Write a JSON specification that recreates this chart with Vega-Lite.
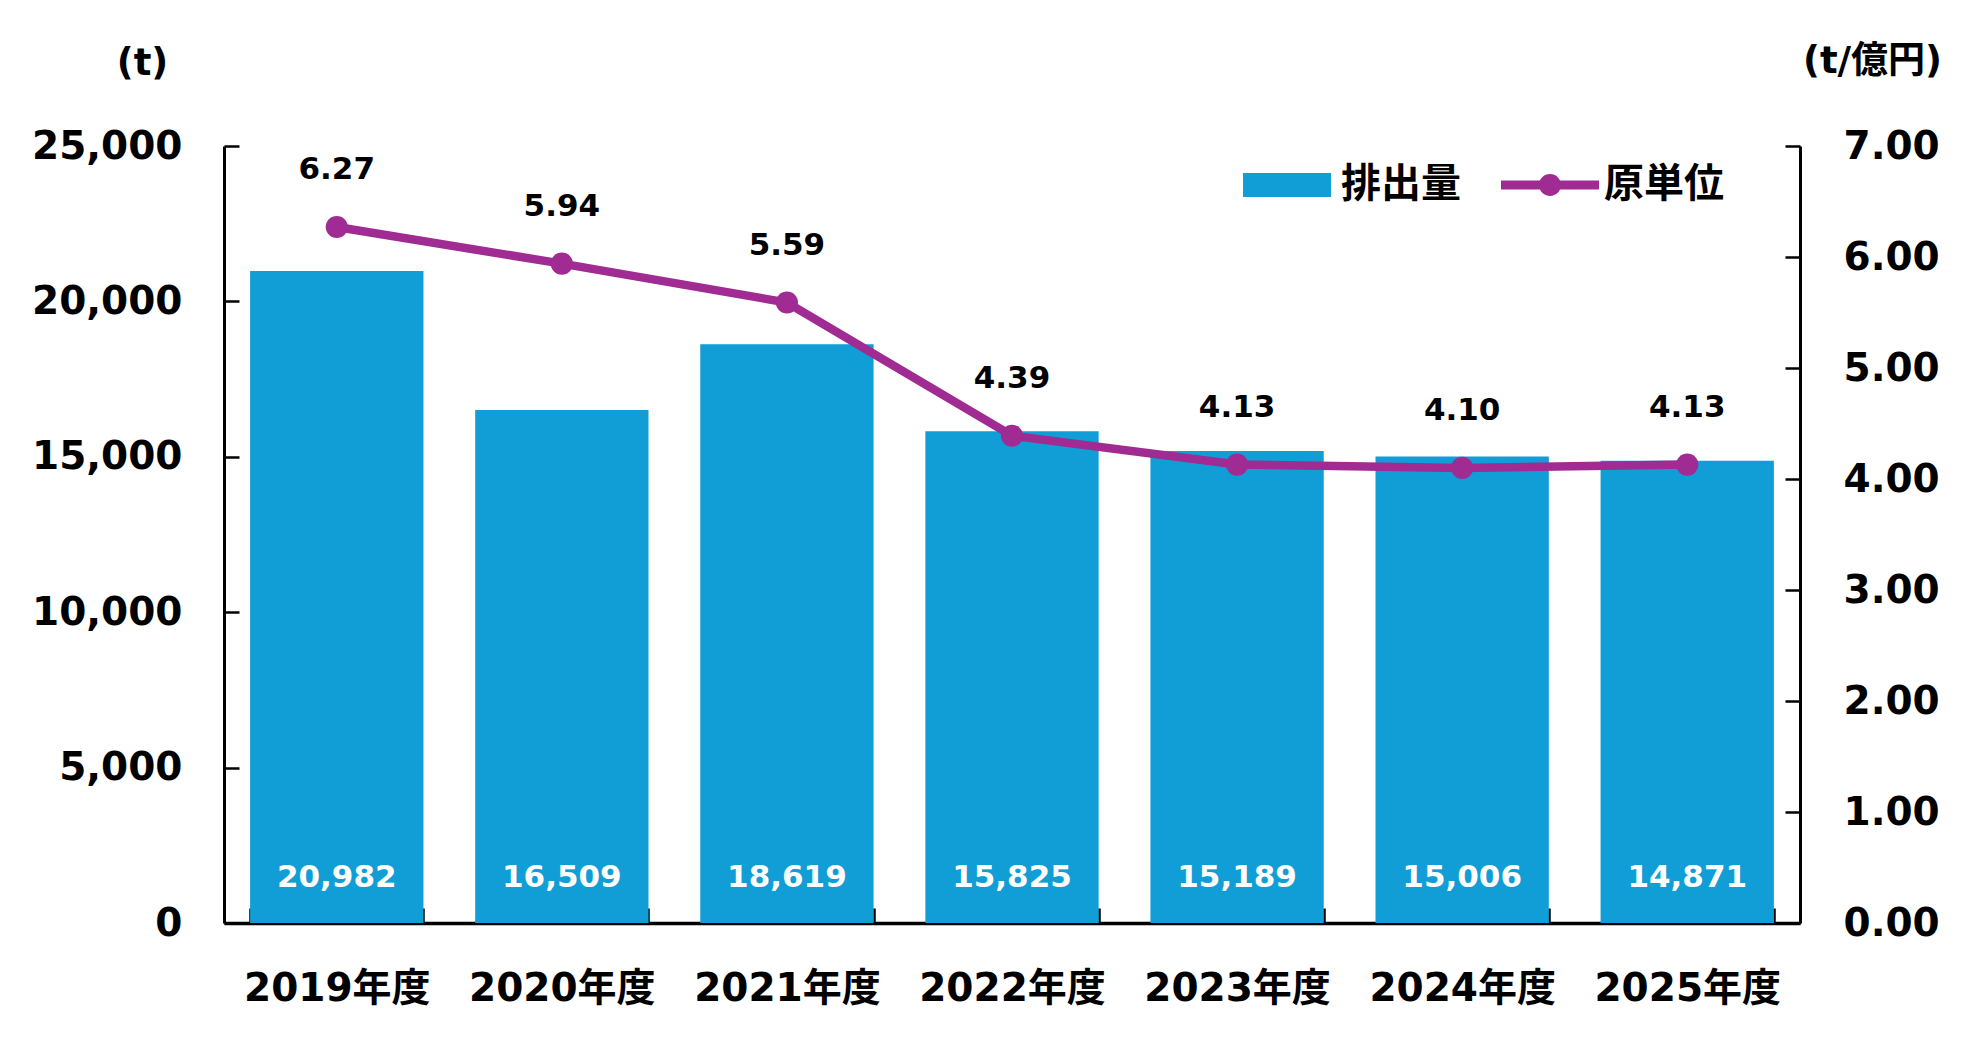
{
  "$schema": "https://vega.github.io/schema/vega-lite/v6.json",
  "width": 1576,
  "height": 777,
  "autosize": {"type": "none"},
  "padding": {"left": 224, "top": 146, "right": 184, "bottom": 127},
  "background": "white",
  "config": {
    "view": {"stroke": null},
    "font": "DejaVu Sans, Noto Sans CJK JP",
    "axis": {
      "grid": false,
      "domainColor": "#000000",
      "domainWidth": 3,
      "tickColor": "#000000",
      "tickWidth": 2.5,
      "tickSize": -15,
      "labelColor": "#000000",
      "labelFont": "DejaVu Sans, Noto Sans CJK JP",
      "labelFontWeight": "bold",
      "labelFontSize": 39,
      "labelLimit": 0,
      "titleFont": "DejaVu Sans, Noto Sans CJK JP",
      "titleFontWeight": "bold",
      "titleFontSize": 37,
      "titleColor": "#000000"
    }
  },
  "data": {
    "values": [
      {"year": "2019年度", "amount": 20982, "intensity": 6.27},
      {"year": "2020年度", "amount": 16509, "intensity": 5.94},
      {"year": "2021年度", "amount": 18619, "intensity": 5.59},
      {"year": "2022年度", "amount": 15825, "intensity": 4.39},
      {"year": "2023年度", "amount": 15189, "intensity": 4.13},
      {"year": "2024年度", "amount": 15006, "intensity": 4.10},
      {"year": "2025年度", "amount": 14871, "intensity": 4.13}
    ]
  },
  "encoding": {
    "x": {
      "field": "year",
      "type": "nominal",
      "sort": null,
      "scale": {"paddingInner": 0.23, "paddingOuter": 0.116},
      "axis": {
        "title": null,
        "labelAngle": 0,
        "labelFontSize": 39,
        "labelBaseline": "middle",
        "labelPadding": 80,
        "labelLimit": 0,
        "tickBand": "extent",
        "domainWidth": 3.5
      }
    }
  },
  "layer": [
    {
      "layer": [
        {
          "mark": {"type": "bar"},
          "encoding": {
            "y": {
              "field": "amount",
              "type": "quantitative",
              "scale": {"domain": [0, 25000], "nice": false},
              "axis": {
                "title": "(t)",
                "titleAngle": 0,
                "titleAlign": "center",
                "titleBaseline": "middle",
                "titleX": -82,
                "titleY": -83,
                "values": [0, 5000, 10000, 15000, 20000, 25000],
                "format": ",.0f",
                "labelPadding": 57
              }
            },
            "color": {
              "datum": "排出量",
              "scale": {"domain": ["排出量", "原単位"], "range": ["#119ED6", "#A02B92"]},
              "legend": {
                "orient": "none",
                "legendX": 1014,
                "legendY": -10,
                "direction": "horizontal",
                "title": null,
                "padding": 0,
                "symbolSize": 9604,
                "symbolStrokeWidth": 0,
                "labelFont": "Noto Sans CJK JP",
                "labelFontWeight": "bold",
                "labelFontSize": 40,
                "labelColor": "#000000",
                "labelOffset": 5,
                "labelLimit": 0,
                "columnPadding": 40,
                "encode": {
                  "symbols": {
                    "update": {
                      "shape": {"signal": "datum.value === '原単位' ? 'M-1,-0.092L1,-0.092L1,0.092L-1,0.092Z M0.224,0A0.224,0.224 0 1,1 -0.224,0A0.224,0.224 0 1,1 0.224,0Z' : 'M-0.898,-0.245L0.898,-0.245L0.898,0.245L-0.898,0.245Z'"},
                      "fill": {"signal": "scale('color', datum.value)"},
                      "stroke": {"value": "transparent"},
                      "opacity": {"value": 1},
                      "fillOpacity": {"value": 1}
                    }
                  }
                }
              }
            }
          }
        },
        {
          "mark": {"type": "text", "color": "#FFFFFF", "fontSize": 31, "fontWeight": "bold", "baseline": "middle", "dy": -45, "font": "DejaVu Sans"},
          "encoding": {
            "y": {"datum": 0, "type": "quantitative"},
            "text": {"field": "amount", "type": "quantitative", "format": ","}
          }
        }
      ]
    },
    {
      "layer": [
        {
          "mark": {"type": "line", "strokeWidth": 8.5, "point": {"filled": true, "size": 490}},
          "encoding": {
            "y": {
              "field": "intensity",
              "type": "quantitative",
              "scale": {"domain": [0, 7], "nice": false},
              "axis": {
                "orient": "right",
                "title": "(t/億円)",
                "titleAngle": 0,
                "titleAlign": "center",
                "titleBaseline": "middle",
                "titleX": 72,
                "titleY": -85,
                "values": [0, 1, 2, 3, 4, 5, 6, 7],
                "format": ".2f",
                "labelPadding": 58
              }
            },
            "color": {"datum": "原単位"}
          }
        },
        {
          "mark": {"type": "text", "color": "#000000", "fontSize": 31, "fontWeight": "bold", "baseline": "middle", "dy": -57, "font": "DejaVu Sans"},
          "encoding": {
            "y": {"field": "intensity", "type": "quantitative"},
            "text": {"field": "intensity", "type": "quantitative", "format": ".2f"}
          }
        }
      ]
    }
  ],
  "resolve": {"scale": {"y": "independent"}}
}
